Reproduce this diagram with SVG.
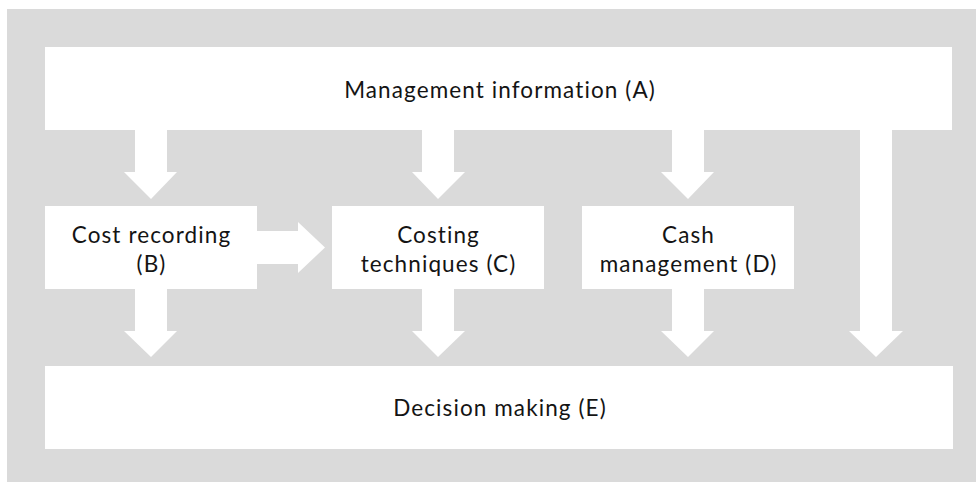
<svg xmlns="http://www.w3.org/2000/svg" width="976" height="482" viewBox="0 0 976 482">
<style>
.box{fill:#ffffff}
.arr{fill:#ffffff}
.t{font-family:Lato,"Noto Sans","Liberation Sans",sans-serif;font-size:22.5px;letter-spacing:1.1px;fill:#141414;text-anchor:middle}
</style>
<rect x="0" y="0" width="976" height="482" fill="#ffffff"/>
<rect x="7" y="9" width="969" height="473" fill="#dadada"/>
<g id="connectors">
<polygon class="arr" points="135,130 167,130 167,172 177,172 151,199 124,172 135,172"/>
<polygon class="arr" points="422,130 454,130 454,172 465,172 438,199 412,172 422,172"/>
<polygon class="arr" points="672,130 704,130 704,172 714,172 688,199 661,172 672,172"/>
<polygon class="arr" points="860,130 892,130 892,331 903,331 876,357 849,331 860,331"/>
<polygon class="arr" points="135,289 167,289 167,331 177,331 151,357 124,331 135,331"/>
<polygon class="arr" points="422,289 454,289 454,331 465,331 438,357 412,331 422,331"/>
<polygon class="arr" points="672,289 704,289 704,331 714,331 688,357 661,331 672,331"/>
<polygon class="arr" points="257,231 298,231 298,222 325,247.5 298,273 298,264 257,264"/>
</g>
<g id="nodeA">
<rect class="box" x="45" y="47" width="907" height="83"/>
<text class="t" x="500" y="98">Management information (A)</text>
</g>
<g id="nodeB">
<rect class="box" x="45" y="206" width="212" height="83"/>
<text class="t" x="151.5" y="243">Cost recording</text>
<text class="t" x="151.5" y="272">(B)</text>
</g>
<g id="nodeC">
<rect class="box" x="332" y="206" width="212" height="83"/>
<text class="t" x="438.5" y="243">Costing</text>
<text class="t" x="438.5" y="272">techniques (C)</text>
</g>
<g id="nodeD">
<rect class="box" x="582" y="206" width="212" height="83"/>
<text class="t" x="688.5" y="243">Cash</text>
<text class="t" x="688.5" y="272">management (D)</text>
</g>
<g id="nodeE">
<rect class="box" x="45" y="366" width="908" height="83"/>
<text class="t" x="500" y="416">Decision making (E)</text>
</g>
</svg>
